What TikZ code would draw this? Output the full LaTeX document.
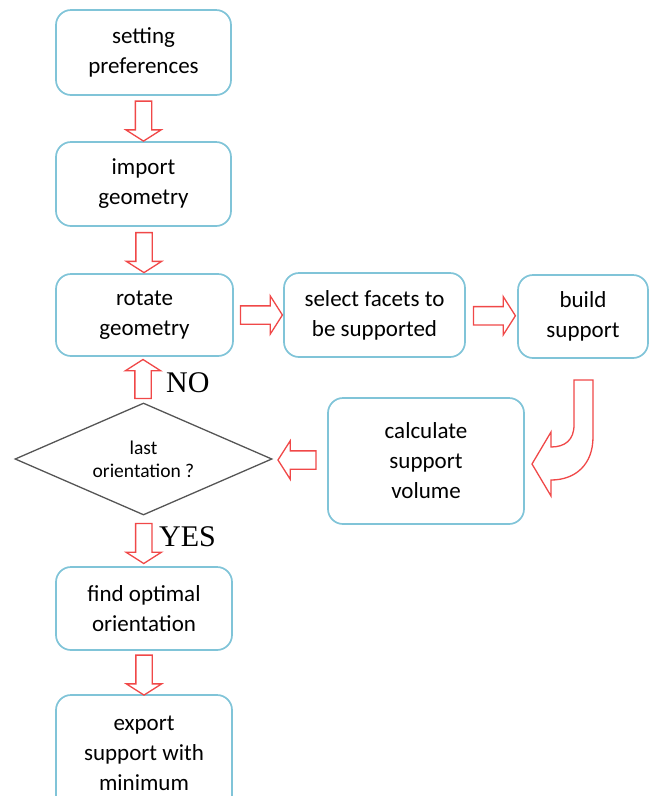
\documentclass[tikz,border=0pt]{standalone}
\usepackage{fontspec}
\setmainfont{Carlito}
\newfontfamily\answerfont{Liberation Serif}
\usetikzlibrary{shapes.geometric,shapes.arrows,calc}
\definecolor{boxblue}{RGB}{128,196,216}
\definecolor{arrowred}{RGB}{240,72,72}
\definecolor{diagray}{RGB}{85,85,85}
\begin{document}
\begin{tikzpicture}[x=1pt,y=-1pt,every node/.style={font=\fontsize{23}{30}\selectfont},
  stepbox/.style={draw=boxblue,line width=1.7pt,rounded corners=15pt,fill=white,align=center,inner sep=0pt},
  decision/.style={diamond,draw=diagray,line width=1.3pt,aspect=2.3,minimum width=257pt,minimum height=112pt,inner sep=0pt,align=center,font=\fontsize{19.5}{23}\selectfont},
  fatarrow/.style={single arrow,draw=arrowred,line width=1.3pt,fill=white,inner xsep=0pt,inner ysep=7.5pt,minimum height=40pt,single arrow head extend=9.5pt,single arrow tip angle=115},
  sidearrow/.style={fatarrow,minimum height=42pt,inner ysep=8.5pt,single arrow head extend=10pt},
  answer/.style={font=\answerfont\fontsize{30}{30}\selectfont,inner sep=0pt,anchor=west}]
\clip (0,0) rectangle (650,796);
% steps
\node[stepbox,minimum width=175pt,minimum height=85pt] (pref) at (143.5,52.5) {setting\\preferences};
\node[stepbox,minimum width=175pt,minimum height=84pt] (geom) at (143.5,184) {import\\geometry};
\node[stepbox,minimum width=177pt,minimum height=82pt] (rot) at (144.5,315) {rotate\\geometry};
\node[stepbox,minimum width=181pt,minimum height=84pt] (facets) at (374.5,315) {select facets to\\be supported};
\node[stepbox,minimum width=130pt,minimum height=83pt] (build) at (583,316.5) {build\\support};
\node[stepbox,minimum width=196pt,minimum height=126pt] (vol) at (426,461) {calculate\\support\\volume};
\node[decision] (last) at (143.5,459) {last\\orientation ?};
\node[stepbox,minimum width=176pt,minimum height=83pt] (opt) at (144,608.5) {find optimal\\orientation};
\node[stepbox,minimum width=176pt,minimum height=116pt] (export) at (144,753) {export\\support with\\minimum};
% block arrows
\node[fatarrow,rotate=-90] (a1) at ($(pref.south)!0.5!(geom.north)$) {};
\node[fatarrow,rotate=-90] (a2) at ($(geom.south)!0.5!(rot.north)$) {};
\node[sidearrow] (a3) at ($(rot.east)!0.5!(facets.west)$) {};
\node[sidearrow] (a4) at ($(facets.east)!0.5!(build.west)$) {};
\node[sidearrow,rotate=180,minimum height=38pt] (a5) at ($(vol.west)!0.5!(last.east)$) {};
\node[fatarrow,rotate=90,minimum height=39pt] (ano) at ($(last.north)!0.5!(rot.south)+(-1,2)$) {};
\node[fatarrow,rotate=-90] (ayes) at ($(last.south)!0.5!(opt.north)$) {};
\node[fatarrow,rotate=-90] (a6) at ($(opt.south)!0.5!(export.north)$) {};
\node[answer] (no) at (166,383) {NO};
\node[answer] (yes) at (159,537) {YES};
% bent arrow from build support down to the volume box
\draw[arrowred,line width=1.3pt,fill=white] (574,380) -- (574,425) .. controls (574,440) and (565,447) .. (551,447) -- (551,432) -- (532,464) -- (551,496) -- (551,480) .. controls (575,480) and (593,465) .. (593,437) -- (593,380) -- cycle;
\end{tikzpicture}
\end{document}
